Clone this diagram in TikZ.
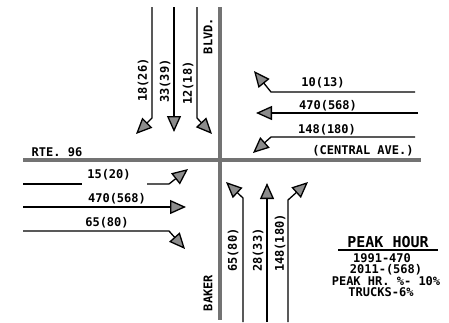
\documentclass[tikz,border=0pt]{standalone}
\usepackage{fontspec}
\newfontfamily\leroy{DejaVu Sans Mono}
\usetikzlibrary{arrows.meta}
\tikzset{
  road/.style={line width=3.2pt, black!55},
  move/.style={line width=1.3pt, -{Triangle[length=16pt,width=14pt,fill=black!45]}},
  vol/.style={font=\leroy\bfseries\fontsize{12}{13}\selectfont, inner sep=0pt}
}
\begin{document}
\begin{tikzpicture}[x=1pt,y=-1pt]
  \useasboundingbox (0,0) rectangle (449,322);

  % the two streets
  \draw[road] (23,160) -- (421,160);
  \draw[road] (220,7) -- (220,320);
  \node[vol] (rte) at (57,152) {RTE. 96};
  \node[vol] (central) at (363,151) {(CENTRAL AVE.)};
  \node[vol, rotate=90] (blvd) at (208,36) {BLVD.};
  \node[vol, rotate=90] (baker) at (208,293) {BAKER};

  % southbound
  \draw[move] (152,7) -- (152,118) -- (136,134);
  \draw[move] (174,7) -- (174,132);
  \draw[move] (197,7) -- (197,118) -- (212,134);
  \foreach \x/\y/\z in {143/80/{18(26)},165/81/{33(39)},188/83/{12(18)}}
    \node[vol, rotate=90] (s\x) at (\x,\y) {\z};

  % westbound
  \draw[move] (415,92) -- (271,92) -- (254,71);
  \draw[move] (418,113) -- (256,113);
  \draw[move] (415,137) -- (271,137) -- (253,153);
  \foreach \x/\y/\z in {323/83/{10(13)},328/106/{470(568)},327/130/{148(180)}}
    \node[vol] (w\y) at (\x,\y) {\z};

  % eastbound
  \draw[line width=1.3pt] (23,184) -- (82,184);
  \draw[move] (147,184) -- (169,184) -- (188,169);
  \draw[move] (23,207) -- (186,207);
  \draw[move] (23,231) -- (169,231) -- (185,249);
  \foreach \x/\y/\z in {109/175/{15(20)},117/199/{470(568)},107/223/{65(80)}}
    \node[vol] (e\y) at (\x,\y) {\z};

  % northbound
  \draw[move] (243,322) -- (243,198) -- (226,182);
  \draw[move] (267,322) -- (267,183);
  \draw[move] (288,322) -- (288,200) -- (308,182);
  \foreach \x/\y/\z in {233/250/{65(80)},258/250/{28(33)},280/243/{148(180)}}
    \node[vol, rotate=90] (n\x) at (\x,\y) {\z};

  % legend
  \node[vol, font=\leroy\bfseries\fontsize{15}{16}\selectfont] (peak) at (388,242) {PEAK HOUR};
  \draw[line width=1.1pt] (338,250) -- (438,250);
  \node[vol] (l1) at (382,258) {1991-470};
  \node[vol] (l2) at (386,270) {2011-(568)};
  \node[vol] (l3) at (386,281) {PEAK HR. \%- 10\%};
  \node[vol] (l4) at (381,292) {TRUCKS-6\%};
\end{tikzpicture}
\end{document}
